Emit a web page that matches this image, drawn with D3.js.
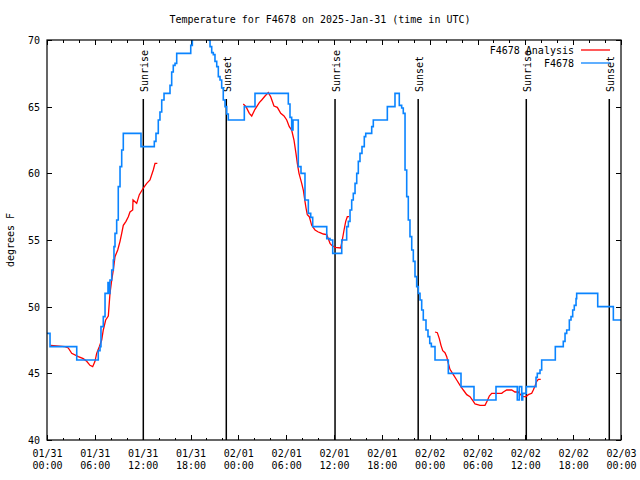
<!DOCTYPE html>
<html><head><meta charset="utf-8">
<script src="https://cdn.jsdelivr.net/npm/d3@7"></script>
<style>
body{margin:0;background:#fff}
svg text{font-family:"DejaVu Sans Mono","Liberation Mono",monospace;font-size:10px;fill:#000}
</style>
</head><body><svg id="c" width="640" height="480"></svg>
<script>
// ---- data (hours since 2025-01-31 00:00 UTC) ----
const titleText = "Temperature for F4678 on 2025-Jan-31 (time in UTC)";
const yLabel = "degrees F";
const yTicks = [40, 45, 50, 55, 60, 65, 70];
const seriesNames = ["F4678 Analysis", "F4678"];

const blueHours = [0.00,0.38,3.73,6.43,6.65,6.77,7.06,7.28,7.65,7.74,7.90,8.12,8.32,8.40,8.53,8.74,8.94,9.16,9.37,9.57,
  11.79,13.46,13.67,13.96,14.17,14.39,14.68,15.43,15.64,15.84,16.06,16.27,18.03,18.23,18.56,19.94,20.23,20.45,20.66,20.86,
  21.07,21.29,21.49,21.70,21.91,22.11,22.33,22.54,22.74,24.75,26.09,30.27,30.48,30.69,30.86,31.52,31.86,32.36,32.78,33.08,
  33.33,35.09,35.50,35.84,36.97,37.59,37.80,38.01,38.22,38.42,38.64,38.85,39.05,39.26,39.51,39.80,39.98,40.73,40.93,42.69,
  43.65,44.19,44.49,44.69,44.91,45.12,45.32,45.53,45.75,45.95,46.16,46.37,46.58,46.79,47.00,47.20,47.54,47.79,48.01,48.21,
  48.67,50.34,51.93,53.56,56.32,58.99,59.24,59.55,59.67,60.12,61.34,61.50,61.84,62.05,63.76,64.76,64.98,
  65.19,65.52,65.73,65.94,66.14,66.36,66.44,69.08,71.04,72.00];
const blueTemps = [48.0,47.0,46.0,46.7,47.0,48.5,49.25,51.0,51.8,51.0,52.0,52.75,53.5,54.5,55.5,56.5,59.0,60.5,61.75,63.0,
  62.0,62.4,63.0,64.0,64.6,65.5,66.0,66.6,67.6,68.1,68.25,69.0,69.6,70.5,71.0,70.5,70.0,69.5,69.05,68.9,
  68.4,68.0,67.25,67.0,66.4,65.5,65.0,64.45,64.0,65.0,66.0,65.2,64.2,63.25,64.0,60.5,60.0,58.0,57.0,56.7,
  56.0,55.1,55.0,54.0,55.0,56.0,56.4,57.25,58.0,58.5,59.25,60.0,60.9,61.5,62.0,62.75,63.0,63.5,64.0,65.0,
  66.0,65.1,64.9,64.5,60.25,58.25,56.5,55.25,54.25,53.4,52.25,51.5,51.0,50.5,49.75,49.0,48.25,47.75,47.25,47.0,
  46.0,45.0,44.0,43.0,44.0,43.0,44.0,43.0,43.5,44.0,44.7,45.0,45.25,46.0,47.0,47.4,48.0,
  48.25,49.0,49.25,49.75,50.1,50.6,51.0,50.0,49.0,49.0];

// null marks a gap in the analysis series
const redHours = [0.46,2.26,2.67,3.10,3.93,4.55,4.98,5.39,5.73,6.02,6.23,6.56,6.86,7.06,7.36,7.69,7.90,8.12,8.32,8.53,
  8.87,9.16,9.37,9.57,9.91,10.20,10.41,10.75,10.79,11.25,11.58,12.08,12.51,12.92,13.33,13.55,13.84,null,
  24.62,24.96,25.38,25.68,26.09,26.63,26.93,27.35,27.76,28.06,28.47,28.89,29.32,29.73,30.07,30.39,30.69,30.98,31.23,31.40,
  31.61,31.95,32.15,32.36,32.49,32.65,32.90,33.20,33.62,34.03,34.24,34.66,35.09,35.29,35.50,35.71,36.13,36.84,37.04,37.26,
  37.47,37.67,37.88,null,
  48.67,48.96,49.21,49.42,49.64,49.92,50.14,50.34,50.55,50.97,51.39,51.81,52.22,52.65,53.06,53.48,53.69,54.32,54.94,55.23,
  55.48,55.78,57.04,57.24,57.66,58.29,58.70,59.12,59.33,59.67,60.09,60.37,60.80,61.00,61.21,61.43,61.63,61.93];
const redTemps = [47.1,47.0,46.9,46.5,46.25,46.1,45.9,45.6,45.5,45.9,46.5,47.0,47.5,48.25,49.0,49.3,51.0,52.0,52.75,53.75,
  54.25,54.9,55.5,56.1,56.4,56.75,57.1,57.25,58.0,57.75,58.4,58.9,59.25,59.5,60.25,60.75,60.75,null,
  65.2,65.0,64.5,64.3,64.8,65.3,65.5,65.8,66.05,65.75,65.05,64.95,64.5,64.3,64.0,63.5,63.25,62.5,61.5,60.75,
  60.0,59.25,58.75,57.9,57.4,56.9,56.75,56.1,55.75,55.6,55.55,55.45,55.4,55.1,54.75,54.6,54.45,54.4,55.0,55.75,
  56.4,56.75,56.75,null,
  48.1,48.05,47.6,47.1,46.7,46.55,46.25,45.75,45.3,44.9,44.5,44.1,43.75,43.4,43.25,42.9,42.7,42.6,42.6,42.95,
  43.3,43.5,43.5,43.6,43.75,43.75,43.6,43.6,43.45,43.25,43.25,43.4,43.5,43.75,44.05,44.4,44.55,44.55];

const sunHours = [12.08, 22.49, 36.13, 46.56, 60.12, 70.53];
const sunLabels = ["Sunrise", "Sunset", "Sunrise", "Sunset", "Sunrise", "Sunset"];

// ---- chart ----
const t0 = Date.UTC(2025, 0, 31);
const toDate = h => new Date(t0 + h * 3600e3);
const L = 47, R = 621, T = 40, B = 440;
const svg = d3.select("#c");
const x = d3.scaleUtc().domain([toDate(0), toDate(72)]).range([L, R]);
const y = d3.scaleLinear().domain([40, 70]).range([B, T]);

const majorX = d3.range(0, 73, 6).map(toDate);
const minorX = d3.range(0, 73, 2).filter(h => h % 6 !== 0).map(toDate);

svg.append("text").attr("x", 320).attr("y", 23).attr("text-anchor", "middle").text(titleText);

// bottom axis
const gB = svg.append("g").attr("transform", `translate(0,${B})`)
  .call(d3.axisBottom(x).tickValues(majorX).tickSizeInner(-5).tickSizeOuter(0).tickPadding(0).tickFormat(""));
gB.select(".domain").remove();
gB.selectAll(".tick").append("text").attr("text-anchor", "middle")
  .each(function(d) {
    const t = d3.select(this);
    t.append("tspan").attr("x", 0).attr("y", 17).text(d3.utcFormat("%m/%d")(d));
    t.append("tspan").attr("x", 0).attr("y", 29).text(d3.utcFormat("%H:%M")(d));
  });
const gBm = svg.append("g").attr("transform", `translate(0,${B})`)
  .call(d3.axisBottom(x).tickValues(minorX).tickSizeInner(-2.5).tickSizeOuter(0).tickFormat(""));
gBm.select(".domain").remove();
// top axis (mirror)
const gT = svg.append("g").attr("transform", `translate(0,${T})`)
  .call(d3.axisTop(x).tickValues(majorX).tickSizeInner(-5).tickSizeOuter(0).tickFormat(""));
gT.select(".domain").remove();
const gTm = svg.append("g").attr("transform", `translate(0,${T})`)
  .call(d3.axisTop(x).tickValues(minorX).tickSizeInner(-2.5).tickSizeOuter(0).tickFormat(""));
gTm.select(".domain").remove();
// left axis
const gL = svg.append("g").attr("transform", `translate(${L},0)`)
  .call(d3.axisLeft(y).tickValues(yTicks).tickSizeInner(-5).tickSizeOuter(0).tickPadding(7).tickFormat(d3.format("d")));
gL.select(".domain").remove();
gL.selectAll("text").attr("x", -7).attr("dy", "0.35em");
// right axis
const gR = svg.append("g").attr("transform", `translate(${R},0)`)
  .call(d3.axisRight(y).tickValues(yTicks).tickSizeInner(-5).tickSizeOuter(0).tickFormat(""));
gR.select(".domain").remove();
svg.selectAll(".tick line").attr("stroke", "#000").attr("stroke-width", 1).attr("shape-rendering", "crispEdges");
svg.selectAll("g").attr("font-family", null).attr("font-size", null);

svg.append("text").attr("transform", `translate(14,240) rotate(-90)`).attr("text-anchor", "middle").text(yLabel);

// clip
svg.append("clipPath").attr("id", "clip").append("rect").attr("x", L).attr("y", T).attr("width", R - L).attr("height", B - T);

// sun lines
sunHours.forEach((h, i) => {
  const sx = x(toDate(h));
  svg.append("line").attr("x1", sx).attr("x2", sx).attr("y1", 99).attr("y2", B)
    .attr("stroke", "#000").attr("stroke-width", 1.5);
  svg.append("text").attr("transform", `translate(${sx + 4.5},92) rotate(-90)`).text(sunLabels[i]);
});

// series
const blue = blueHours.map((h, i) => ({ t: toDate(h), v: blueTemps[i] }));
const red = redHours.map((h, i) => ({ t: h == null ? null : toDate(h), v: redTemps[i] }));
const plot = svg.append("g").attr("clip-path", "url(#clip)");
plot.append("path").datum(red)
  .attr("d", d3.line().defined(d => d.v != null).x(d => x(d.t)).y(d => y(d.v)))
  .attr("fill", "none").attr("stroke", "#ff0000").attr("stroke-width", 1.3);
plot.append("path").datum(blue)
  .attr("d", d3.line().x(d => x(d.t)).y(d => y(d.v)).curve(d3.curveStepAfter))
  .attr("fill", "none").attr("stroke", "#0a84ff").attr("stroke-width", 1.6);

// border
svg.append("rect").attr("x", L).attr("y", T).attr("width", R - L).attr("height", B - T)
  .attr("fill", "none").attr("stroke", "#000").attr("stroke-width", 1.2);

// legend
const legColors = ["#ff0000", "#0a84ff"];
seriesNames.forEach((n, i) => {
  const ly = 50 + i * 13;
  svg.append("text").attr("x", 574).attr("y", ly + 4).attr("text-anchor", "end").text(n);
  svg.append("line").attr("x1", 581).attr("x2", 610).attr("y1", ly).attr("y2", ly)
    .attr("stroke", legColors[i]).attr("stroke-width", 1.3);
});
</script></body></html>
